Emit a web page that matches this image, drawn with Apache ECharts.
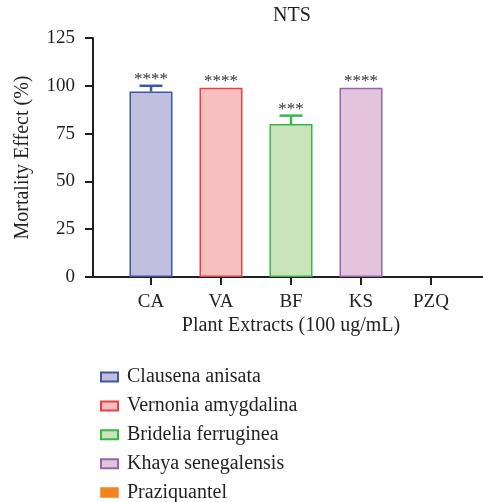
<!DOCTYPE html>
<html>
<head>
<meta charset="utf-8">
<script src="https://cdn.jsdelivr.net/npm/echarts@6/dist/echarts.min.js"></script>
<style>html,body{margin:0;padding:0;background:#fff}#c{width:483px;height:502px}</style>
</head>
<body>
<div id="c"></div>
<script>
const categories = ['CA', 'VA', 'BF', 'KS', 'PZQ'];
const seriesNames = ['Clausena anisata', 'Vernonia amygdalina', 'Bridelia ferruginea', 'Khaya senegalensis', 'Praziquantel'];
const means = [97, 99, 80, 99, 0];
const errors = [3, 0, 4.4, 0, 0];
const stars = ['****', '****', '***', '****', ''];
const yTicks = [0, 25, 50, 75, 100, 125];

const fills = ['#c1bfdf', '#f8bfc1', '#c9e4bb', '#e2c4dc', '#f58220'];
const borders = ['#3e56a6', '#ee3e45', '#3bb54a', '#9b63ae', '#f58220'];
const ink = '#231f20';
const serif = '"Liberation Serif", "DejaVu Serif", serif';

const barSeries = seriesNames.map((name, i) => ({
  name: name,
  type: 'bar',
  xAxisIndex: 1,
  yAxisIndex: 1,
  barWidth: 43,
  barGap: '-100%',
  data: categories.map((c, j) => (j === i ? means[i] : '-')),
  itemStyle: {
    color: fills[i],
    borderColor: borders[i],
    borderWidth: i === 4 ? 0 : 1.5
  }
}));

const errData = categories.map((c, j) => [j, means[j], errors[j], stars[j]]);

const errSeries = {
  type: 'custom',
  xAxisIndex: 1,
  yAxisIndex: 1,
  silent: true,
  data: errData,
  renderItem: function (params, api) {
    const j = api.value(0);
    const m = api.value(1);
    const e = api.value(2);
    const s = stars[j];
    const base = api.coord([j, m]);
    const top = api.coord([j, m + e]);
    const children = [];
    if (e > 0) {
      children.push({
        type: 'line',
        shape: { x1: base[0], y1: base[1], x2: top[0], y2: top[1] },
        style: { stroke: borders[j], lineWidth: 2.5 }
      });
      children.push({
        type: 'line',
        shape: { x1: top[0] - 11.5, y1: top[1], x2: top[0] + 11.5, y2: top[1] },
        style: { stroke: borders[j], lineWidth: 2.5 }
      });
    }
    if (s) {
      children.push({
        type: 'text',
        style: {
          x: top[0], y: top[1] - 6,
          text: s,
          fill: '#333',
          font: '17px ' + serif,
          align: 'center',
          verticalAlign: 'middle'
        }
      });
    }
    return { type: 'group', children: children };
  },
  z: 5
};

const legendData = seriesNames.map((n, i) => (i === 4
  ? { name: n, itemStyle: { borderColor: borders[i], borderWidth: 1.5 } }
  : { name: n }));

const chart = echarts.init(document.getElementById('c'), null, { renderer: 'canvas' });
chart.setOption({
  animation: false,
  backgroundColor: '#fff',
  title: {
    text: 'NTS',
    left: 273,
    top: 6,
    padding: 0,
    textStyle: { fontFamily: serif, fontSize: 20, fontWeight: 'normal', color: ink }
  },
  legend: {
    orient: 'vertical',
    left: 100,
    top: 367,
    height: 220,
    padding: 0,
    itemWidth: 17,
    itemHeight: 9,
    itemGap: 8.9,
    icon: 'rect',
    textStyle: { fontFamily: serif, fontSize: 20, color: ink, lineHeight: 20, padding: [0, 0, 0, 4] },
    data: legendData
  },
  grid: [
    { left: 93, right: 0, top: 38, bottom: 225 },
    { left: 116, right: 17, top: 38, bottom: 225 }
  ],
  xAxis: [
    {
      type: 'value', gridIndex: 0, min: 0, max: 1,
      axisLine: { show: true, lineStyle: { color: ink, width: 2 } },
      axisTick: { show: false }, axisLabel: { show: false }, splitLine: { show: false }
    },
    {
      type: 'category', gridIndex: 1, data: categories,
      axisLine: { show: false },
      axisTick: { show: true, alignWithLabel: true, length: 8, lineStyle: { color: ink, width: 2 } },
      axisLabel: { fontFamily: serif, fontSize: 19, color: ink, margin: 16 },
      name: 'Plant Extracts (100 ug/mL)',
      nameLocation: 'middle',
      nameGap: 39,
      nameTextStyle: { fontFamily: serif, fontSize: 20, color: ink }
    }
  ],
  yAxis: [
    {
      type: 'value', gridIndex: 0, min: 0, max: 125, interval: 25,
      axisLine: { show: true, lineStyle: { color: ink, width: 2 } },
      axisTick: { show: true, length: 8, lineStyle: { color: ink, width: 2 } },
      axisLabel: {
        fontFamily: serif, fontSize: 19, color: ink, margin: 18,
        formatter: v => (yTicks.indexOf(v) >= 0 ? String(v) : '')
      },
      splitLine: { show: false },
      name: 'Mortality Effect (%)',
      nameLocation: 'middle',
      nameGap: 60,
      nameTextStyle: { fontFamily: serif, fontSize: 20, color: ink }
    },
    {
      type: 'value', gridIndex: 1, min: 0, max: 125, interval: 25, show: false
    }
  ],
  series: barSeries.concat([errSeries])
});
</script>
</body>
</html>
